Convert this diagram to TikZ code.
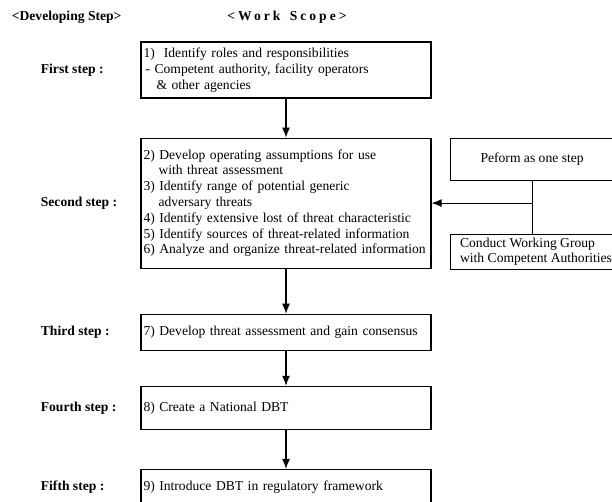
\documentclass[tikz,border=0pt]{standalone}
\usepackage{fontspec}
\setmainfont{Liberation Serif}
\usepackage{tikz}
\usetikzlibrary{arrows.meta, positioning}

\begin{document}
\begin{tikzpicture}[x=1pt,y=-1pt,->,>={Latex[length=10pt,width=8pt]},line width=1.1pt,node distance=39pt]
		\tikzstyle{every node}=[font=\fontsize{13.6}{15.8}\selectfont]
		\tikzstyle{work}=[draw,rectangle,text width=285pt,inner xsep=2.5pt,inner ysep=0pt,align=left]
		\tikzstyle{side}=[draw,rectangle,inner ysep=0pt]
		\tikzstyle{stepname}=[anchor=west,font=\fontsize{13.6}{15.8}\selectfont\bfseries]

		\useasboundingbox (0,0) rectangle (612,502);

		% headings
		\node[anchor=west,font=\fontsize{13.6}{15.8}\selectfont\bfseries] (devtitle) at (8,17) {<Developing Step>};
		\node[font=\fontsize{13.6}{15.8}\selectfont\bfseries\addfontfeature{LetterSpace=22}] (scopetitle) at (287,17) {<Work\hspace{3pt} Scope>};

		% work scope
		\node[work,minimum height=56pt] (s1) at (286,70) {1)\ \ Identify roles and responsibilities\\\hspace*{2pt}- Competent authority, facility operators\\\hspace*{13pt}\& other agencies};
		\node[work,minimum height=130pt] (s2) [below=39pt of s1] {2) Develop operating assumptions for use\\\hspace*{15pt}with threat assessment\\3) Identify range of potential generic\\\hspace*{15pt}adversary threats\\4) Identify extensive lost of threat characteristic\\5) Identify sources of threat-related information\\6) Analyze and organize threat-related information};
		\node[work,minimum height=36pt] (s3) [below=45pt of s2] {7) Develop threat assessment and gain consensus};
		\node[work,minimum height=43pt] (s4) [below=35pt of s3] {8) Create a National DBT};
		\node[work,minimum height=36pt] (s5) [below=39pt of s4] {9) Introduce DBT in regulatory framework};

		% developing steps
		\node[stepname] (l1) at (37,0 |- s1) {First step :};
		\node[stepname] (l2) at (37,0 |- s2) {Second step :};
		\node[stepname] (l3) at (37,0 |- s3) {Third step :};
		\node[stepname] (l4) at (37,0 |- s4) {Fourth step :};
		\node[stepname] (l5) at (37,0 |- s5) {Fifth step :};

		% side boxes
		\node[side,minimum width=164pt,minimum height=42pt] (perform) [below right=0pt and 18pt of s2.north east] {Peform as one step};
		\node[side,align=left,inner xsep=10pt,minimum height=35pt] (conduct) [below=53pt of perform.south west,anchor=north west] {Conduct Working Group\\with Competent Authorities};

		\path (s1) edge (s2)
			 (s2) edge (s3)
			 (s3) edge (s4)
			 (s4) edge (s5);
		\draw[-] (perform.south) -- (perform.south |- conduct.north);
		\draw (perform.south) |- (s2.east);
\end{tikzpicture}
\end{document}
